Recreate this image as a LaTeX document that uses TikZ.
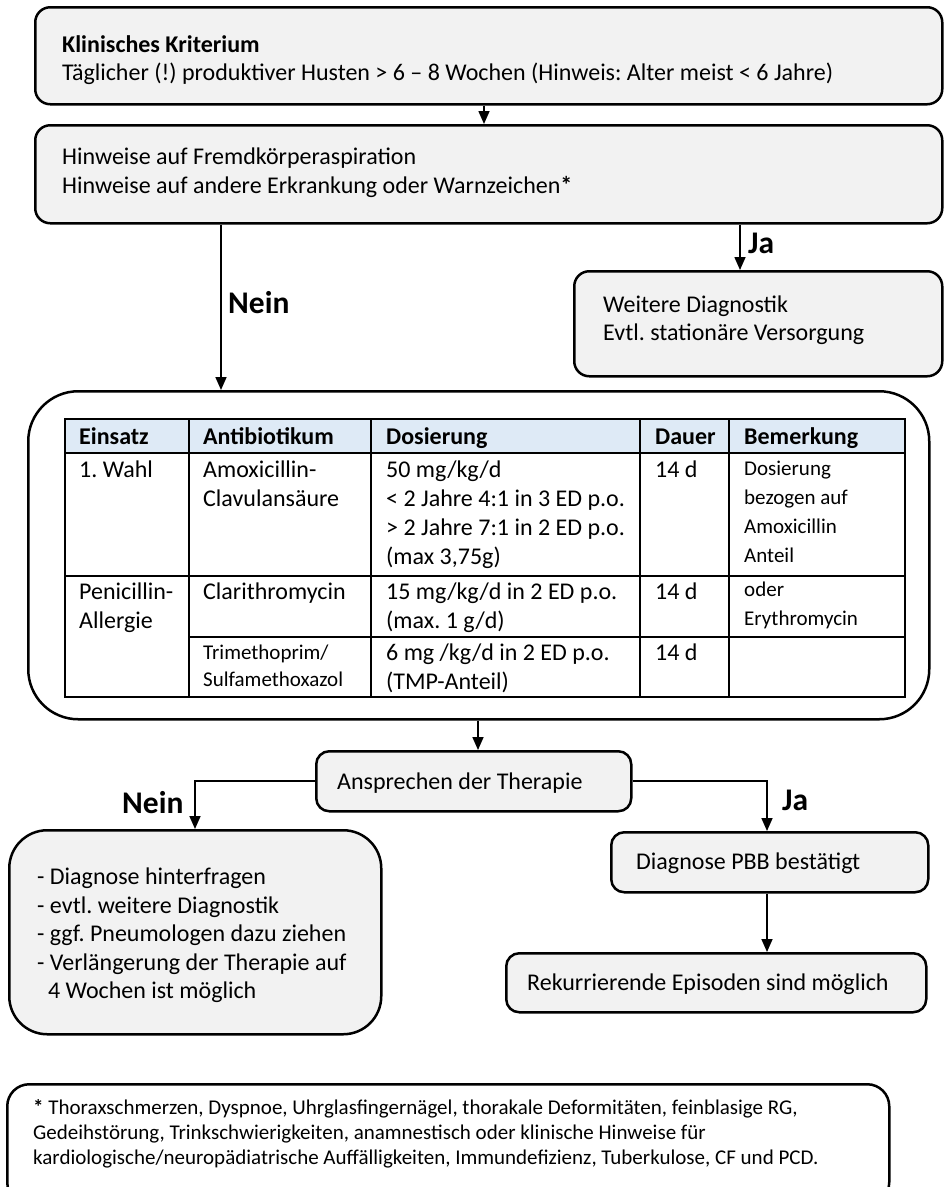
\documentclass[tikz,border=0pt]{standalone}
\usepackage{fontspec}
\setmainfont{Carlito}
\usetikzlibrary{arrows.meta}
\definecolor{boxgray}{HTML}{F2F2F2}
\definecolor{headblue}{HTML}{DEEAF6}
\tikzset{
  box/.style={draw, line width=2.5pt, fill=boxgray, rounded corners=15pt, anchor=north west, inner sep=0pt},
  txt/.style={inner sep=0pt, anchor=base west, font=\fontsize{24}{29}\selectfont},
  small/.style={inner sep=0pt, anchor=base west, font=\fontsize{21}{29}\selectfont},
  foot/.style={inner sep=0pt, anchor=base west, font=\fontsize{21}{25}\selectfont},
  lbl/.style={inner sep=0pt, anchor=base west, font=\fontsize{31.5}{36}\selectfont\bfseries},
  conn/.style={line width=1.6pt, -{Triangle[length=13pt,width=11pt]}},
  tab/.style={line width=1.5pt}
}
\begin{document}
\frenchspacing
\begin{tikzpicture}[x=1pt,y=-1pt]
\useasboundingbox (0,0) rectangle (948,1187);
% boxes
\node[box, minimum width=907pt, minimum height=97pt] (b1) at (34,6) {};
\node[box, minimum width=907pt, minimum height=98pt] (b2) at (34,124) {};
\node[box, minimum width=368pt, minimum height=105pt] (b3) at (573,270) {};
\node[box, fill=white, rounded corners=50pt, minimum width=901pt, minimum height=328pt] (b4) at (27,390) {};
\node[box, rounded corners=13pt, minimum width=315pt, minimum height=60pt] (b5) at (315,750) {};
\node[box, rounded corners=38pt, minimum width=372pt, minimum height=204pt] (b6) at (8,829) {};
\node[box, rounded corners=13pt, minimum width=317pt, minimum height=60pt] (b7) at (610,831) {};
\node[box, rounded corners=13pt, minimum width=420pt, minimum height=59pt] (b8) at (505,952) {};
\node[box, fill=white, rounded corners=22pt, minimum width=882pt, minimum height=120pt] (b9) at (6,1083) {};
% texts
\node[txt] (t1a) at (62,52) {\textbf{Klinisches Kriterium}};
\node[txt] (t1b) at (62,80) {Täglicher (!) produktiver Husten > 6 – 8 Wochen (Hinweis: Alter meist < 6 Jahre)};
\node[txt] (t2a) at (62,164) {Hinweise auf Fremdkörperaspiration};
\node[txt] (t2b) at (62,193) {Hinweise auf andere Erkrankung oder Warnzeichen\textbf{*}};
\node[txt] (t3a) at (603,312) {Weitere Diagnostik};
\node[txt] (t3b) at (603,340) {Evtl. stationäre Versorgung};
\node[txt] (t5) at (337,789) {Ansprechen der Therapie};
\node[txt] (t6a) at (37,884) {- Diagnose hinterfragen};
\node[txt] (t6b) at (37,913) {- evtl. weitere Diagnostik};
\node[txt] (t6c) at (37,941) {- ggf. Pneumologen dazu ziehen};
\node[txt] (t6d) at (37,970) {- Verlängerung der Therapie auf};
\node[txt] (t6e) at (37,998) {\ \ 4 Wochen ist möglich};
\node[txt] (t7) at (636,869) {Diagnose PBB bestätigt};
\node[txt] (t8) at (527,990) {Rekurrierende Episoden sind möglich};
\node[foot] (t9a) at (33,1114) {\textbf{*} Thoraxschmerzen, Dyspnoe, Uhrglasfingernägel, thorakale Deformitäten, feinblasige RG,};
\node[foot] (t9b) at (33,1139) {Gedeihstörung, Trinkschwierigkeiten, anamnestisch oder klinische Hinweise für};
\node[foot] (t9c) at (33,1164) {kardiologische/neuropädiatrische Auffälligkeiten, Immundefizienz, Tuberkulose, CF und PCD.};
% labels
\node[lbl] (l1) at (228,313) {Nein};
\node[lbl] (l2) at (748,253) {Ja};
\node[lbl] (l3) at (122,813) {Nein};
\node[lbl] (l4) at (782,810) {Ja};
% table
\fill[headblue] (65,419) rectangle (905,453);
\draw[tab] (65,419) rectangle (905,697);
\draw[tab] (65,453) -- (905,453);
\draw[tab] (65,576) -- (905,576);
\draw[tab] (189,637) -- (905,637);
\foreach \x in {189,371,640,729} \draw[tab] (\x,419) -- (\x,697);
\node[txt] (h1) at (79,444) {\textbf{Einsatz}};
\node[txt] (h2) at (203,444) {\textbf{Antibiotikum}};
\node[txt] (h3) at (386,444) {\textbf{Dosierung}};
\node[txt] (h4) at (655,444) {\textbf{Dauer}};
\node[txt] (h5) at (744,444) {\textbf{Bemerkung}};
\node[txt] (c11) at (79,477) {1. Wahl};
\node[txt] (c12a) at (203,477) {Amoxicillin-};
\node[txt] (c12b) at (203,506) {Clavulansäure};
\node[txt] (c13a) at (386,477) {50 mg/kg/d};
\node[txt] (c13b) at (386,506) {< 2 Jahre 4:1 in 3 ED p.o.};
\node[txt] (c13c) at (386,535) {> 2 Jahre 7:1 in 2 ED p.o.};
\node[txt] (c13d) at (386,564) {(max 3,75g)};
\node[txt] (c14) at (655,477) {14 d};
\node[small] (c15a) at (744,475) {Dosierung};
\node[small] (c15b) at (744,504) {bezogen auf};
\node[small] (c15c) at (744,533) {Amoxicillin};
\node[small] (c15d) at (744,562) {Anteil};
\node[txt] (c21a) at (79,599) {Penicillin-};
\node[txt] (c21b) at (79,628) {Allergie};
\node[txt] (c22) at (203,599) {Clarithromycin};
\node[txt] (c23a) at (386,599) {15 mg/kg/d in 2 ED p.o.};
\node[txt] (c23b) at (386,628) {(max. 1 g/d)};
\node[txt] (c24) at (655,599) {14 d};
\node[small] (c25a) at (744,596) {oder};
\node[small] (c25b) at (744,625) {Erythromycin};
\node[small] (c32a) at (203,659) {Trimethoprim/};
\node[small] (c32b) at (203,686) {Sulfamethoxazol};
\node[txt] (c33a) at (386,660) {6 mg /kg/d in 2 ED p.o.};
\node[txt] (c33b) at (386,689) {(TMP-Anteil)};
\node[txt] (c34) at (655,660) {14 d};
% connectors
\coordinate (xa) at (484,0);
\coordinate (xb) at (221,0);
\coordinate (xc) at (740,0);
\coordinate (xd) at (478,0);
\coordinate (xe) at (195,0);
\coordinate (xf) at (767,0);
\draw[conn] (b1.south -| xa) -- (b2.north -| xa);
\draw[conn] (b2.south -| xb) -- (b4.north -| xb);
\draw[conn] (b2.south -| xc) -- (b3.north -| xc);
\draw[conn] (b4.south -| xd) -- (b5.north -| xd);
\draw[conn] (b5.west) -| (b6.north -| xe);
\draw[conn] (b5.east) -| (b7.north -| xf);
\draw[conn] (b7.south -| xf) -- (b8.north -| xf);
\end{tikzpicture}
\end{document}
